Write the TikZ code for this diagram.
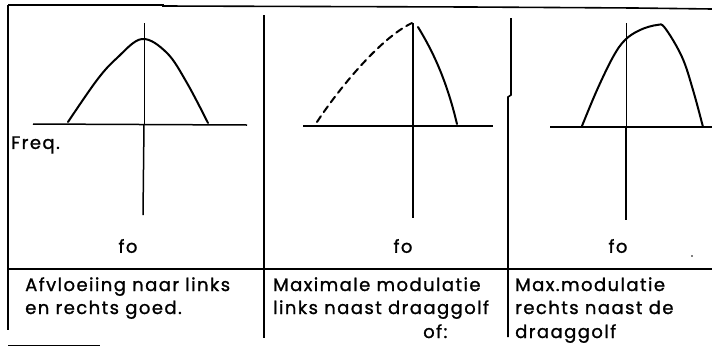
\documentclass[tikz,border=0pt]{standalone}
\usepackage{fontspec}
\setmainfont[LetterSpace=8,FakeBold=1.2]{Poppins}
\begin{document}
\begin{tikzpicture}[x=1pt,y=-1pt,
  frame/.style={line width=1.6pt,black},
  axis/.style={line width=1.5pt,black},
  curve/.style={line width=2pt,black,line cap=round,line join=round},
  lbl/.style={font=\fontsize{18}{21}\selectfont,inner sep=0pt},
  txt/.style={font=\fontsize{18}{21}\selectfont,inner sep=0pt,anchor=base west}]
\useasboundingbox (0,0) rectangle (712,346);
\fill[white] (0,0) rectangle (712,346);
% frame
\draw[frame] (8,5) -- (163,5) -- (163,6) -- (470,7) -- (635,8) -- (712,9);
\draw[frame] (8,5) -- (8,330);
\draw[frame] (7,269) -- (712,269);
\draw[frame] (264,15) -- (264,338);
\draw[frame] (511,18) -- (511,95) -- (508,97) -- (508,337);
\draw[line width=1pt] (8,345) -- (100,345);
% graph 1
\draw[axis] (33,124) -- (247,125);
\draw[line width=1pt] (144,23) -- (144,124);
\draw[axis] (144,124) -- (143,215);
\draw[curve] plot[smooth,tension=0.6] coordinates {(68,122) (97,80) (117,58) (142,39) (167,53) (187,83) (208,123)};
% graph 2
\draw[axis] (303,126) -- (493,126);
\draw[axis] (413,23) -- (413,218);
\draw[curve,dash pattern=on 7pt off 5pt] (317,122) .. controls (338,90) and (380,38) .. (412,23);
\draw[curve] (418,27) .. controls (432,50) and (446,78) .. (457,124);
% graph 3
\draw[axis] (550,127) -- (712,127);
\draw[line width=1pt] (626,23) -- (626,127);
\draw[axis] (626,127) -- (626,220);
\draw[curve] plot[smooth,tension=0.6] coordinates {(582,126) (597,90) (613,57) (625,40) (640,30) (657,25) (665,28) (682,57) (693,90) (703,127)};
\fill (692,256) circle (0.8pt);
% labels
\node[lbl,anchor=west] (freq) at (11,145) {Freq.};
\node[lbl] (fo1) at (128,246) {fo};
\node[lbl] (fo2) at (403,246) {fo};
\node[lbl] (fo3) at (618,246) {fo};
\node[txt] (a1) at (25,291) {Afvloeiing naar links};
\node[txt] (a2) at (25,314) {en rechts goed.};
\node[txt] (b1) at (273,291) {Maximale modulatie};
\node[txt] (b2) at (273,314) {links naast draaggolf};
\node[txt] (b3) at (423,338) {of:};
\node[txt] (c1) at (515,291) {Max.modulatie};
\node[txt] (c2) at (515,314) {rechts naast de};
\node[txt] (c3) at (515,338) {draaggolf};
\end{tikzpicture}
\end{document}
